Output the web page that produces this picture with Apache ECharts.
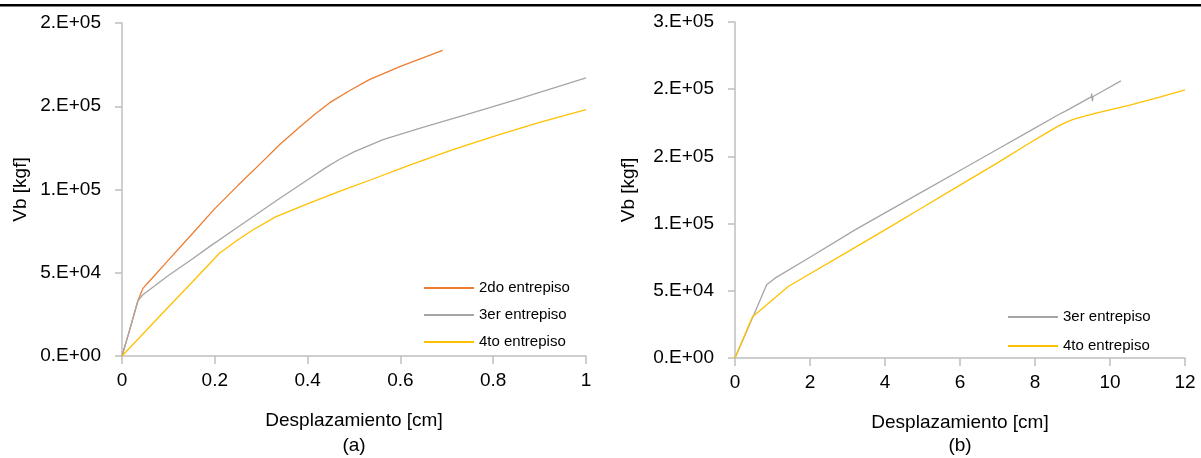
<!DOCTYPE html>
<html>
<head>
<meta charset="utf-8">
<script src="https://cdn.jsdelivr.net/npm/echarts@6/dist/echarts.min.js"></script>
<style>
html,body{margin:0;padding:0;background:#fff;}
#chart{width:1201px;height:458px;}
</style>
</head>
<body>
<div id="chart"></div>
<script>
// ---- Panel (a) data ----
const dispA_2do = [0, 0.015, 0.03, 0.0344, 0.045, 0.06, 0.1, 0.15, 0.2, 0.25, 0.3, 0.34, 0.383, 0.415, 0.447, 0.49, 0.533, 0.6, 0.691];
const vbA_2do   = [0, 14200, 29000, 33300, 40600, 45200, 57600, 73000, 88500, 102500, 116000, 127000, 137600, 145000, 152000, 159300, 166000, 173900, 183600];

const dispA_3er = [0, 0.015, 0.03, 0.0344, 0.045, 0.06, 0.1, 0.15, 0.1886, 0.25, 0.3355, 0.405, 0.44, 0.47, 0.5, 0.5625, 0.65, 0.742, 0.85, 1.0];
const vbA_3er   = [0, 14200, 29000, 33300, 36800, 40000, 48300, 58000, 65700, 77500, 93800, 106800, 113300, 118300, 122600, 130000, 137500, 145000, 154000, 167000];

const dispA_4to = [0, 0.05, 0.1, 0.15, 0.21, 0.25, 0.2817, 0.332, 0.4037, 0.47, 0.541, 0.62, 0.713, 0.813, 0.9, 1.0];
const vbA_4to   = [0, 14700, 29400, 44000, 61700, 69800, 75700, 83700, 91800, 99000, 106300, 114600, 124000, 133000, 140300, 148000];

// ---- Panel (b) data ----
const dispB_3er = [0, 0.5, 0.844, 1.067, 2, 3.2, 4, 5, 6, 7, 7.867, 8.6, 8.62, 8.9, 8.92, 9.2, 9.5, 9.51, 9.53, 9.55, 9.8, 10.29];
const vbB_3er   = [0, 32000, 54500, 59400, 75000, 95300, 108000, 123800, 139500, 155300, 169000, 180600, 179800, 185000, 184200, 189600, 194300, 196800, 191200, 194600, 198500, 206200];

const dispB_4to = [0, 0.462, 0.9, 1.42, 2, 3, 4, 5, 6, 7, 7.867, 8.3, 8.58, 8.8, 9.0, 9.2, 9.6, 10.53, 11.3, 12];
const vbB_4to   = [0, 30500, 41000, 53200, 62700, 79000, 95300, 112000, 128600, 145200, 160200, 167300, 172000, 175000, 177300, 179000, 182000, 188200, 194000, 199500];

// ---- Tick labels ----
const yTickLabelsA = ['0.E+00', '5.E+04', '1.E+05', '2.E+05', '2.E+05'];
const yTickLabelsB = ['0.E+00', '5.E+04', '1.E+05', '2.E+05', '2.E+05', '3.E+05'];
const xTickLabelsA = ['0', '0.2', '0.4', '0.6', '0.8', '1'];
const xTickLabelsB = ['0', '2', '4', '6', '8', '10', '12'];

const seriesNames = ['2do entrepiso', '3er entrepiso', '4to entrepiso'];
const xTitle = 'Desplazamiento [cm]';
const yTitle = 'Vb [kgf]';
const panelLabels = ['(a)', '(b)'];

const zip = (xs, ys) => xs.map((x, i) => [x, ys[i]]);

const FONT = "'Liberation Sans', Arial, sans-serif";
const C_OR = '#ED7D31', C_GR = '#A5A5A5', C_YE = '#FFC000';
const axisCol = '#BFBFBF';

function xAxisCfg(grid, max, interval, labels) {
  return {
    type: 'value', gridIndex: grid, min: 0, max: max, interval: interval,
    name: xTitle, nameLocation: 'middle', nameGap: 55,
    nameTextStyle: { fontFamily: FONT, fontSize: 19, color: '#000' },
    axisLine: { show: true, onZero: false, lineStyle: { color: axisCol, width: 1.5 } },
    axisTick: { show: true, inside: false, length: 8, lineStyle: { color: axisCol, width: 1.5 } },
    splitLine: { show: false },
    axisLabel: { fontFamily: FONT, fontSize: 19, color: '#000', margin: 15,
      formatter: (v, i) => labels[i] }
  };
}
function yAxisCfg(grid, max, interval, labels, gap) {
  return {
    type: 'value', gridIndex: grid, min: 0, max: max, interval: interval,
    name: yTitle, nameLocation: 'middle', nameGap: gap,
    nameTextStyle: { fontFamily: FONT, fontSize: 19, color: '#000' },
    axisLine: { show: true, lineStyle: { color: axisCol, width: 1.5 } },
    axisTick: { show: true, inside: false, length: 7, lineStyle: { color: axisCol, width: 1.5 } },
    splitLine: { show: false },
    axisLabel: { fontFamily: FONT, fontSize: 19, color: '#000', margin: 21,
      formatter: (v, i) => labels[i] }
  };
}
function lineSeries(name, color, xi, data) {
  return {
    type: 'line', name: name, xAxisIndex: xi, yAxisIndex: xi,
    data: data, showSymbol: false, symbol: 'none', smooth: false,
    lineStyle: { color: color, width: 1.3 }, itemStyle: { color: color },
    animation: false
  };
}
function legendCfg(id, names, left, top, gap) {
  return {
    id: id, data: names.map(n => ({ name: n, icon: 'rect' })),
    orient: 'vertical', left: left, top: top, padding: 0,
    itemWidth: 50, itemHeight: 2, itemGap: gap, selectedMode: false,
    textStyle: { fontFamily: FONT, fontSize: 15, color: '#000', lineHeight: 16 }
  };
}

const chart = echarts.init(document.getElementById('chart'), null, { renderer: 'canvas' });
chart.setOption({
  backgroundColor: '#fff',
  animation: false,
  grid: [
    { left: 122, top: 23, width: 464, height: 333 },
    { left: 735, top: 22, width: 450, height: 336 }
  ],
  xAxis: [
    xAxisCfg(0, 1, 0.2, xTickLabelsA),
    xAxisCfg(1, 12, 2, xTickLabelsB)
  ],
  yAxis: [
    yAxisCfg(0, 200000, 50000, yTickLabelsA, 92),
    yAxisCfg(1, 250000, 50000, yTickLabelsB, 97)
  ],
  legend: [
    legendCfg('legA', seriesNames, 424, 280, 11),
    legendCfg('legB', seriesNames.slice(1), 1008, 309, 13)
  ],
  graphic: [
    { type: 'rect', left: 0, top: 4, shape: { width: 1201, height: 2.5 }, style: { fill: '#000' } },
    { type: 'text', x: 354, y: 446, style: { text: panelLabels[0], fontFamily: FONT, fontSize: 19, fill: '#000', align: 'center', verticalAlign: 'middle' } },
    { type: 'text', x: 960, y: 446, style: { text: panelLabels[1], fontFamily: FONT, fontSize: 19, fill: '#000', align: 'center', verticalAlign: 'middle' } }
  ],
  series: [
    lineSeries(seriesNames[0], C_OR, 0, zip(dispA_2do, vbA_2do)),
    lineSeries(seriesNames[1], C_GR, 0, zip(dispA_3er, vbA_3er)),
    lineSeries(seriesNames[2], C_YE, 0, zip(dispA_4to, vbA_4to)),
    lineSeries(seriesNames[1], C_GR, 1, zip(dispB_3er, vbB_3er)),
    lineSeries(seriesNames[2], C_YE, 1, zip(dispB_4to, vbB_4to))
  ]
});
</script>
</body>
</html>
